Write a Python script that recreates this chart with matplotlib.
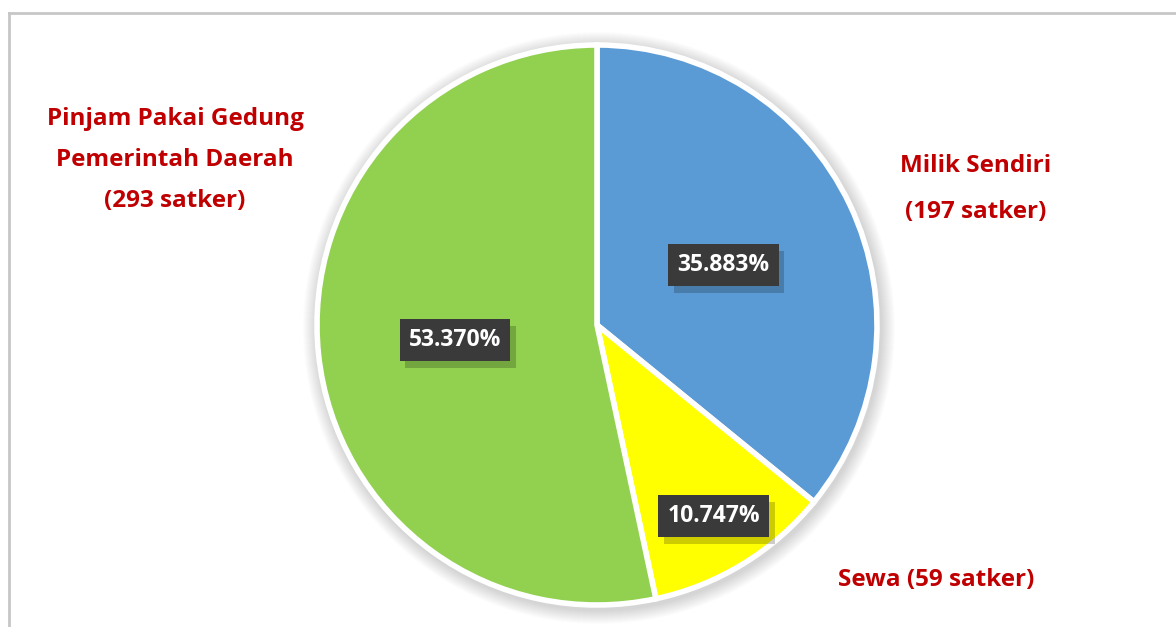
import matplotlib.pyplot as plt
from matplotlib.lines import Line2D
from matplotlib.patches import Circle
import matplotlib.patheffects as pe
import numpy as np

W, H = 1176, 627

categories = ["Milik Sendiri", "Sewa", "Pinjam Pakai Gedung\nPemerintah Daerah"]
satker = [197, 59, 293]
colors = ["#5B9BD5", "#FFFF00", "#92D050"]
pct_radius = [0.5, 0.8, 0.51]

label_text = ["Milik Sendiri\n(197 satker)", "Sewa (59 satker)",
              "Pinjam Pakai Gedung\nPemerintah Daerah\n(293 satker)"]
label_xy = [(976, 189), (936, 580), (175, 160)]
label_spacing = [2.25, 1.0, 1.95]

plt.rcParams['font.family'] = ['Open Sans', 'DejaVu Sans']

fig = plt.figure(figsize=(W / 100, H / 100), dpi=100)
ax = fig.add_axes([0, 0, 1, 1])

# grey frame, cut off at right and bottom
fig.add_artist(Line2D([9 / W, 9 / W], [0, 1 - 13 / H], color="#c6c6c6", lw=2))
fig.add_artist(Line2D([9 / W, 1], [1 - 13 / H, 1 - 13 / H], color="#c6c6c6", lw=2))

cx, cy, r = 597, H - 325, 280

# soft glow around the pie
for k in range(14):
    ax.add_patch(Circle((cx + 2, cy - 3), r + 16 - k, color="#000000",
                        alpha=0.012, lw=0, zorder=1))

wedges, _ = ax.pie(satker, colors=colors, startangle=90, counterclock=False,
                   center=(cx, cy), radius=r, frame=True,
                   wedgeprops=dict(edgecolor="white", linewidth=4))
for w in wedges:
    w.set_zorder(2)
ax.set_xlim(0, W)
ax.set_ylim(0, H)
ax.set_aspect('equal')
ax.axis('off')

total = sum(satker)
for w, v, pr in zip(wedges, satker, pct_radius):
    ang = np.deg2rad((w.theta1 + w.theta2) / 2)
    x = cx + pr * r * np.cos(ang)
    y = cy + pr * r * np.sin(ang)
    t = ax.text(x, y, "%.3f%%" % (100 * v / total), ha="center", va="center",
                fontsize=16.5, fontweight="bold", color="white", zorder=4,
                bbox=dict(boxstyle="square,pad=0.4", fc="#3a3a3a", ec="none"))
    t.get_bbox_patch().set_path_effects(
        [pe.SimplePatchShadow(offset=(4, -5), shadow_rgbFace="black", alpha=0.2),
         pe.Normal()])

for t, (lx, ly), ls in zip(label_text, label_xy, label_spacing):
    ax.text(lx, H - ly, t, ha="center", va="center", fontsize=17.5,
            fontweight="bold", color="#C00000", linespacing=ls)

fig.savefig("out.png", dpi=100)
